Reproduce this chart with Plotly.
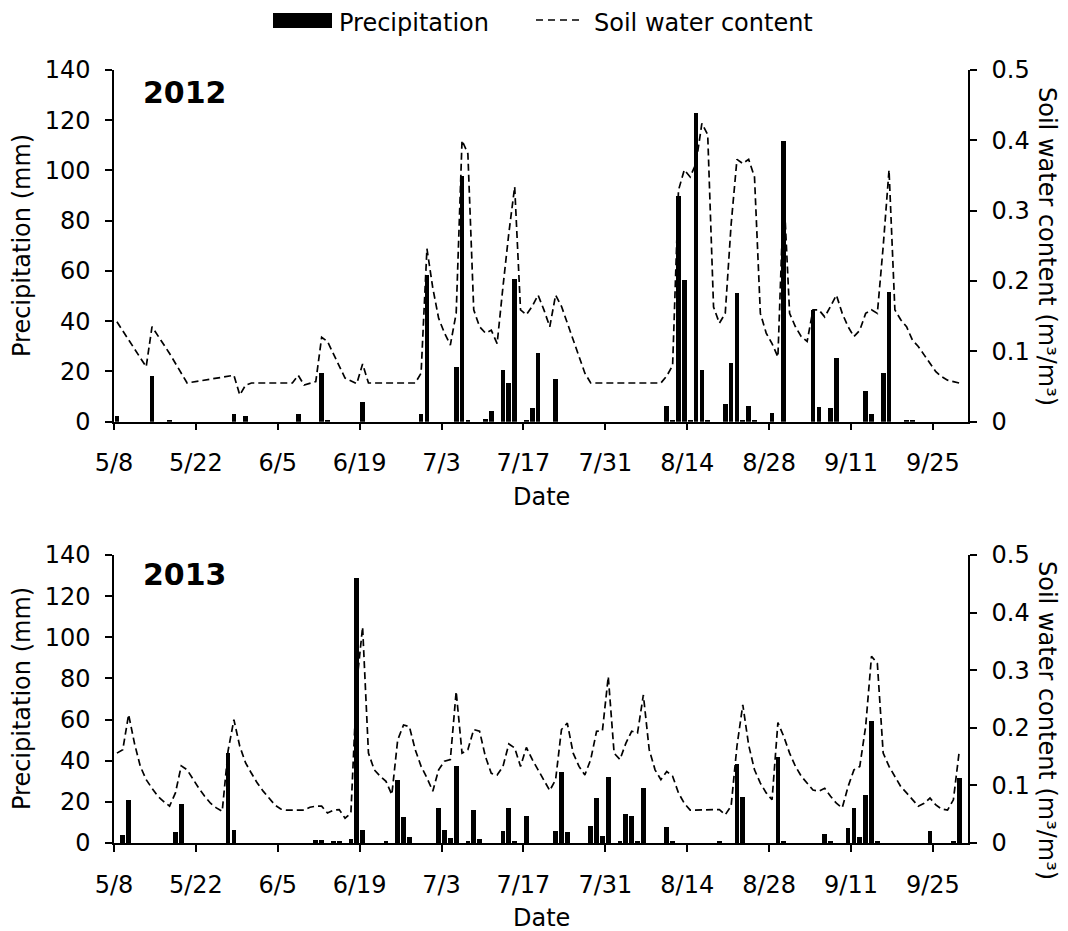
import plotly.graph_objects as go
from plotly.subplots import make_subplots

DAY_MS = 86400000

# ---------------- data ----------------
# 2012 precipitation (mm), days with rain
p2012_dates = ["05-08", "05-14", "05-17", "05-28", "05-30", "06-08", "06-12", "06-13",
               "06-19", "06-29", "06-30", "07-05", "07-06", "07-07", "07-10", "07-11",
               "07-13", "07-14", "07-15", "07-17", "07-18", "07-19", "07-22", "08-10",
               "08-11", "08-12", "08-13", "08-14", "08-15", "08-16", "08-17", "08-20",
               "08-21", "08-22", "08-23", "08-24", "08-25", "08-28", "08-30", "09-04",
               "09-05", "09-07", "09-08", "09-13", "09-14", "09-16", "09-17", "09-20",
               "09-21"]
p2012_mm = [2.3, 18.0, 0.3, 3.2, 2.3, 3.0, 19.2, 0.3,
            8.0, 3.0, 58.5, 21.6, 98.0, 0.3, 1.2, 4.4,
            20.7, 15.3, 56.8, 0.5, 5.6, 27.2, 16.9, 6.4,
            0.5, 90.0, 56.3, 0.3, 123.0, 20.7, 0.3, 6.9,
            23.4, 51.4, 0.3, 6.4, 0.3, 3.6, 111.7, 44.5,
            6.0, 5.6, 25.2, 12.2, 3.0, 19.2, 51.5, 0.3,
            0.3]

# 2012 soil water content (m3/m3)
swc2012_dates = ["05-08", "05-13", "05-14", "05-17", "05-20", "05-28", "05-29", "05-30",
                 "05-31", "06-07", "06-08", "06-09", "06-11", "06-12", "06-13", "06-16",
                 "06-18", "06-19", "06-20", "06-28", "06-29", "06-30", "07-01", "07-02",
                 "07-03", "07-04", "07-05", "07-06", "07-07", "07-08", "07-09", "07-10",
                 "07-11", "07-12", "07-13", "07-14", "07-15", "07-16", "07-17", "07-18",
                 "07-19", "07-20", "07-21", "07-22", "07-23", "07-24", "07-25", "07-26",
                 "07-27", "07-28", "08-09", "08-10", "08-11", "08-12", "08-13", "08-14",
                 "08-15", "08-16", "08-17", "08-18", "08-19", "08-20", "08-21", "08-22",
                 "08-23", "08-24", "08-25", "08-26", "08-27", "08-28", "08-29", "08-30",
                 "08-31", "09-01", "09-02", "09-03", "09-04", "09-05", "09-06", "09-07",
                 "09-08", "09-09", "09-10", "09-11", "09-12", "09-13", "09-14", "09-15",
                 "09-16", "09-17", "09-18", "09-19", "09-20", "09-21", "09-22", "09-23",
                 "09-24", "09-25", "09-26", "09-27", "09-28", "09-29"]
swc2012 = [0.142, 0.078, 0.135, 0.097, 0.055, 0.066, 0.038, 0.052,
           0.055, 0.055, 0.066, 0.052, 0.057, 0.120, 0.114, 0.062,
           0.054, 0.082, 0.055, 0.055, 0.069, 0.246, 0.190, 0.147,
           0.126, 0.109, 0.154, 0.400, 0.381, 0.159, 0.135, 0.126,
           0.130, 0.111, 0.192, 0.268, 0.334, 0.159, 0.152, 0.164,
           0.180, 0.159, 0.135, 0.180, 0.164, 0.140, 0.116, 0.092,
           0.069, 0.055, 0.055, 0.065, 0.080, 0.329, 0.358, 0.348,
           0.367, 0.424, 0.408, 0.163, 0.140, 0.154, 0.280, 0.373,
           0.367, 0.373, 0.348, 0.154, 0.126, 0.111, 0.092, 0.330,
           0.154, 0.135, 0.121, 0.114, 0.159, 0.159, 0.149, 0.164,
           0.180, 0.154, 0.135, 0.121, 0.130, 0.154, 0.159, 0.154,
           0.249, 0.358, 0.159, 0.145, 0.135, 0.116, 0.107, 0.095,
           0.083, 0.071, 0.064, 0.059, 0.057, 0.055]

# 2013 precipitation (mm)
p2013_dates = ["05-09", "05-10", "05-18", "05-19", "05-27", "05-28", "06-11", "06-12",
               "06-14", "06-15", "06-17", "06-18", "06-19", "06-23", "06-25", "06-26",
               "06-27", "07-02", "07-03", "07-04", "07-05", "07-07", "07-08", "07-09",
               "07-13", "07-14", "07-15", "07-17", "07-22", "07-23", "07-24", "07-28",
               "07-29", "07-30", "07-31", "08-02", "08-03", "08-04", "08-05", "08-06",
               "08-10", "08-11", "08-19", "08-22", "08-23", "08-29", "08-30", "09-06",
               "09-07", "09-10", "09-11", "09-12", "09-13", "09-14", "09-15", "09-24",
               "09-28", "09-29"]
p2013_mm = [4.0, 20.7, 5.5, 19.1, 43.7, 6.5, 1.6, 1.6,
            0.5, 0.5, 2.1, 129.0, 6.5, 0.5, 30.7, 12.5,
            2.8, 17.0, 6.5, 2.3, 37.5, 1.1, 15.9, 2.1,
            6.0, 17.0, 1.1, 13.3, 6.0, 34.3, 5.3, 8.1,
            21.8, 3.2, 31.9, 0.5, 14.2, 12.9, 0.5, 26.5,
            7.6, 0.5, 0.8, 38.5, 22.3, 41.7, 0.5, 4.4,
            0.5, 7.1, 17.2, 2.8, 23.3, 59.2, 0.5, 6.0,
            0.5, 31.4]

# 2013 soil water content (m3/m3)
swc2013_dates = ["05-08", "05-09", "05-10", "05-11", "05-12", "05-13", "05-14", "05-15",
                 "05-16", "05-17", "05-18", "05-19", "05-20", "05-21", "05-22", "05-23",
                 "05-24", "05-25", "05-26", "05-27", "05-28", "05-29", "05-30", "05-31",
                 "06-01", "06-02", "06-03", "06-04", "06-05", "06-06", "06-09", "06-10",
                 "06-11", "06-12", "06-13", "06-14", "06-15", "06-16", "06-17", "06-18",
                 "06-19", "06-20", "06-21", "06-22", "06-23", "06-24", "06-25", "06-26",
                 "06-27", "06-28", "06-29", "06-30", "07-01", "07-02", "07-03", "07-04",
                 "07-05", "07-06", "07-07", "07-08", "07-09", "07-10", "07-11", "07-12",
                 "07-13", "07-14", "07-15", "07-16", "07-17", "07-18", "07-19", "07-20",
                 "07-21", "07-22", "07-23", "07-24", "07-25", "07-26", "07-27", "07-28",
                 "07-29", "07-30", "07-31", "08-01", "08-02", "08-03", "08-04", "08-05",
                 "08-06", "08-07", "08-08", "08-09", "08-10", "08-11", "08-12", "08-13",
                 "08-14", "08-19", "08-20", "08-21", "08-22", "08-23", "08-24", "08-25",
                 "08-26", "08-27", "08-28", "08-29", "08-30", "08-31", "09-01", "09-02",
                 "09-03", "09-04", "09-05", "09-06", "09-07", "09-08", "09-09", "09-10",
                 "09-11", "09-12", "09-13", "09-14", "09-15", "09-16", "09-17", "09-18",
                 "09-19", "09-20", "09-21", "09-22", "09-23", "09-24", "09-25", "09-26",
                 "09-27", "09-28", "09-29"]
swc2013 = [0.156, 0.162, 0.223, 0.173, 0.133, 0.110, 0.095, 0.081,
           0.072, 0.064, 0.087, 0.134, 0.127, 0.110, 0.095, 0.081,
           0.069, 0.061, 0.055, 0.160, 0.214, 0.168, 0.139, 0.121,
           0.104, 0.090, 0.078, 0.066, 0.059, 0.057, 0.057, 0.062,
           0.064, 0.064, 0.052, 0.057, 0.058, 0.043, 0.052, 0.277,
           0.375, 0.156, 0.127, 0.116, 0.107, 0.084, 0.179, 0.205,
           0.202, 0.162, 0.133, 0.113, 0.090, 0.127, 0.142, 0.145,
           0.263, 0.156, 0.162, 0.197, 0.194, 0.150, 0.121, 0.118,
           0.133, 0.172, 0.165, 0.133, 0.166, 0.145, 0.127, 0.110,
           0.091, 0.110, 0.197, 0.208, 0.156, 0.133, 0.118, 0.145,
           0.194, 0.195, 0.289, 0.156, 0.145, 0.173, 0.194, 0.191,
           0.257, 0.162, 0.127, 0.110, 0.124, 0.116, 0.087, 0.069,
           0.057, 0.058, 0.049, 0.064, 0.168, 0.240, 0.170, 0.127,
           0.104, 0.087, 0.075, 0.209, 0.185, 0.156, 0.133, 0.116,
           0.104, 0.092, 0.090, 0.095, 0.081, 0.069, 0.061, 0.098,
           0.127, 0.133, 0.202, 0.324, 0.312, 0.156, 0.133, 0.116,
           0.098, 0.087, 0.075, 0.064, 0.069, 0.078, 0.066, 0.059,
           0.057, 0.075, 0.159]

years = [2012, 2013]
precip_dates = [p2012_dates, p2013_dates]
precip_vals = [p2012_mm, p2013_mm]
swc_dates = [swc2012_dates, swc2013_dates]
swc_vals = [swc2012, swc2013]

left_ticks = [0, 20, 40, 60, 80, 100, 120, 140]
right_ticks = [0, 0.1, 0.2, 0.3, 0.4, 0.5]

# ---------------- figure ----------------
# the page body adds an 8 px offset, so the figure is drawn from (8, 8)
OFF = 8
W, H = 1068 - OFF, 931 - OFF
PLOT_L, PLOT_R, PLOT_T, PLOT_B = 114, 968, 70, 843   # target plot box, screen pixels
ML, MT = PLOT_L - OFF, PLOT_T - OFF
MR, MB = W - (PLOT_R - OFF), H - (PLOT_B - OFF)
PW, PH = PLOT_R - PLOT_L, PLOT_B - PLOT_T


def px_x(x):
    return (x - PLOT_L) / PW


def px_y(y):
    return (PLOT_B - y) / PH


FONT = "DejaVu Sans"

fig = make_subplots(rows=2, cols=1,
                    specs=[[{"secondary_y": True}], [{"secondary_y": True}]])

for i, year in enumerate(years):
    row = i + 1
    fig.add_trace(go.Bar(
        x=[f"{year}-{d}" for d in precip_dates[i]], y=precip_vals[i],
        name="Precipitation", marker=dict(color="black", line=dict(width=0)),
        width=0.8 * DAY_MS, xperiod=DAY_MS, xperiodalignment="middle",
        showlegend=False), row=row, col=1, secondary_y=False)
    fig.add_trace(go.Scatter(
        x=[f"{year}-{d}" for d in swc_dates[i]], y=swc_vals[i],
        name="Soil water content", mode="lines",
        line=dict(color="black", width=1.7, dash="7px,4px"),
        xperiod=DAY_MS, xperiodalignment="middle",
        showlegend=False), row=row, col=1, secondary_y=True)

axis_common = dict(showline=True, linecolor="black", linewidth=1.5,
                   ticks="outside", ticklen=7, tickwidth=1.5, tickcolor="black",
                   showgrid=False, zeroline=False,
                   tickfont=dict(family=FONT, size=24, color="black"))

for i, year in enumerate(years):
    fig.update_xaxes(type="date", range=[f"{year}-05-08", f"{year}-10-01"],
                     domain=[0, 1],
                     tick0=f"{year}-05-08", dtick=14 * DAY_MS, tickformat="%-m/%-d",
                     ticklabelstandoff=12, **axis_common, row=i + 1, col=1)
    fig.update_yaxes(range=[0, 140], tickvals=left_ticks, ticklabelstandoff=10,
                     **axis_common, row=i + 1, col=1, secondary_y=False)
    fig.update_yaxes(range=[0, 0.5], tickvals=right_ticks,
                     ticktext=[f"{v:g}" for v in right_ticks], ticklabelstandoff=10,
                     **axis_common, row=i + 1, col=1, secondary_y=True)

top_dom = [px_y(421.7), 1.0]
bot_dom = [0.0, px_y(555)]
fig.update_layout(yaxis=dict(domain=top_dom), yaxis3=dict(domain=bot_dom))

ann_font = dict(family=FONT, size=24, color="black")
annotations = []
# year labels
for label, yc in (("2012", 92), ("2013", 574)):
    annotations.append(dict(text=f"<b>{label}</b>", x=px_x(141), y=px_y(yc),
                            xref="paper", yref="paper", xanchor="left", yanchor="middle",
                            showarrow=False, font=dict(family=FONT, size=30, color="black")))
# axis titles
for yc_date, yc_mid, yc_right in ((497, 246, 246), (918, 699, 720)):
    annotations.append(dict(text="Date", x=px_x(541), y=px_y(yc_date), xref="paper",
                            yref="paper", xanchor="center", yanchor="middle",
                            showarrow=False, font=ann_font))
    annotations.append(dict(text="Precipitation (mm)", x=px_x(22), y=px_y(yc_mid),
                            xref="paper", yref="paper", xanchor="center", yanchor="middle",
                            textangle=-90, showarrow=False, font=ann_font))
    annotations.append(dict(text="Soil water content (m³/m³)",
                            x=px_x(1047), y=px_y(yc_right), xref="paper", yref="paper",
                            xanchor="center", yanchor="middle", textangle=90,
                            showarrow=False, font=ann_font))
# legend texts
annotations.append(dict(text="Precipitation", x=px_x(337), y=px_y(23), xref="paper",
                        yref="paper", xanchor="left", yanchor="middle", showarrow=False,
                        font=ann_font))
annotations.append(dict(text="Soil water content", x=px_x(592), y=px_y(23), xref="paper",
                        yref="paper", xanchor="left", yanchor="middle", showarrow=False,
                        font=ann_font))

shapes = [
    dict(type="rect", xref="paper", yref="paper", x0=px_x(273), x1=px_x(332),
         y0=px_y(28), y1=px_y(13), fillcolor="black", line=dict(width=0)),
    dict(type="line", xref="paper", yref="paper", x0=px_x(536), x1=px_x(583),
         y0=px_y(20), y1=px_y(20), line=dict(color="black", width=1.7, dash="7px,5px")),
]

fig.update_layout(width=W, height=H, margin=dict(l=ML, r=MR, t=MT, b=MB),
                  paper_bgcolor="white", plot_bgcolor="white",
                  annotations=annotations, shapes=shapes, showlegend=False,
                  bargap=0, font=dict(family=FONT, color="black"))

fig.write_html("out.html")
